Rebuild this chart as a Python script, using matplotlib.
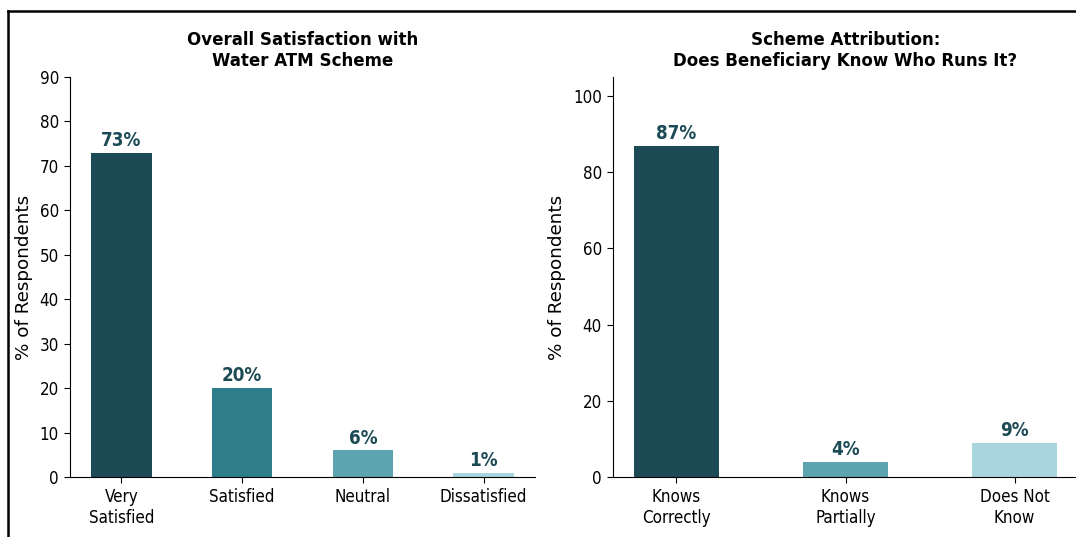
import matplotlib
matplotlib.use("Agg")
import matplotlib.pyplot as plt
from matplotlib.lines import Line2D

# Survey results (% of respondents)
satisfaction_labels = ["Very\nSatisfied", "Satisfied", "Neutral", "Dissatisfied"]
satisfaction_values = [73, 20, 6, 1]
satisfaction_colors = ["#1c4a55", "#2e7d8b", "#5ba4b0", "#a8d5de"]

attribution_labels = ["Knows\nCorrectly", "Knows\nPartially", "Does Not\nKnow"]
attribution_values = [87, 4, 9]
attribution_colors = ["#1c4a55", "#5ba4b0", "#a8d5de"]

label_color = "#1c4a55"

plt.rcParams["font.family"] = ["DejaVu Sans"]
COND = dict(fontstretch="condensed")

W, H = 1076, 537
fig = plt.figure(figsize=(W / 100, H / 100), dpi=100)
fig.patch.set_facecolor("white")

ax1 = fig.add_axes([70 / W, 60 / H, 465 / W, 400 / H])
ax2 = fig.add_axes([613 / W, 60 / H, 465 / W, 400 / H])


def draw_panel(ax, labels, values, colors, title, ylim, yticks):
    x = list(range(len(values)))
    bars = ax.bar(x, values, width=0.5, color=colors)
    for rect, v in zip(bars, values):
        ax.annotate(f"{v}%", (rect.get_x() + rect.get_width() / 2, v),
                    xytext=(0, 2), textcoords="offset points",
                    ha="center", va="bottom", fontsize=13.5,
                    fontweight="bold", color=label_color, **COND)
    ax.set_xticks(x)
    ax.set_xticklabels(labels, fontsize=12.2, **COND)
    ax.set_ylim(*ylim)
    ax.set_yticks(yticks)
    ax.set_yticklabels([str(t) for t in yticks], fontsize=12.2, **COND)
    ax.tick_params(axis="both", length=4.5)
    ax.set_ylabel("% of Respondents", fontsize=13.2, labelpad=5)
    ax.set_title(title, fontsize=13.3, fontweight="bold", pad=8,
                 linespacing=1.22, **COND)
    for s in ("top", "right"):
        ax.spines[s].set_visible(False)


draw_panel(ax1, satisfaction_labels, satisfaction_values, satisfaction_colors,
           "Overall Satisfaction with\nWater ATM Scheme",
           (0, 90), list(range(0, 91, 10)))
draw_panel(ax2, attribution_labels, attribution_values, attribution_colors,
           "Scheme Attribution:\nDoes Beneficiary Know Who Runs It?",
           (0, 105), list(range(0, 101, 20)))

# Frame edge around the figure
fx = 8 / W
fy = 1 - 11 / H
fig.add_artist(Line2D([fx, fx], [0, fy], transform=fig.transFigure,
                      color="black", lw=1.8))
fig.add_artist(Line2D([fx, 1], [fy, fy], transform=fig.transFigure,
                      color="black", lw=1.8))

fig.savefig("out.png", dpi=100, facecolor="white")
